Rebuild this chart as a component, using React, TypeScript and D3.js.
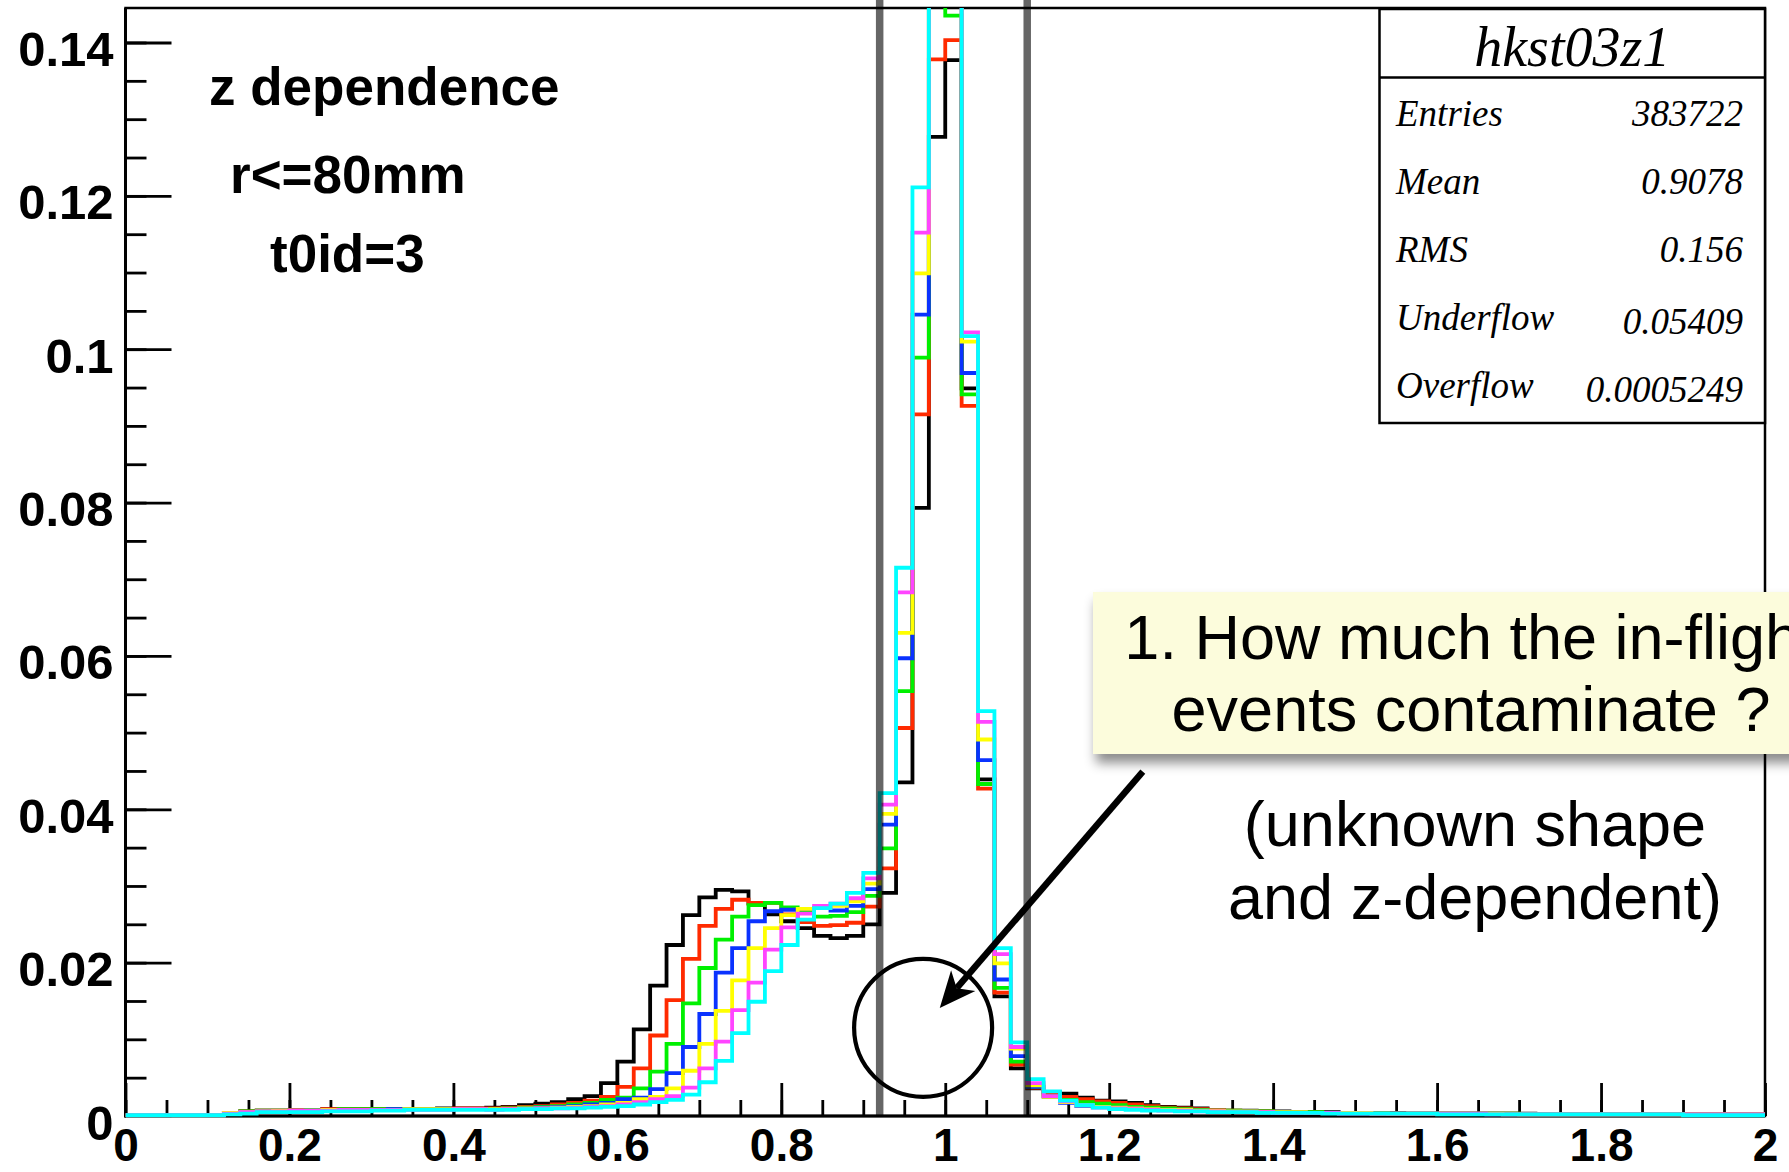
import React, { useEffect, useRef } from 'react';
import * as d3 from 'd3';

// bin width of the histograms, x from 0 to 2 (100 bins)
const binWidth = 0.02;

// normalised counts per bin, one array per z slice (drawn in this order)
const zBlack = [
  0.0001, 0.0001, 0.0001, 0.0001, 0.0001, 0.0001, 0.0004, 0.0006, 0.0007, 0.0007,
  0.0007, 0.0008, 0.0009, 0.0009, 0.0009, 0.0009, 0.0009, 0.0009, 0.0009, 0.001,
  0.001, 0.001, 0.0011, 0.0012, 0.0014, 0.0016, 0.0018, 0.0022, 0.0026, 0.0043,
  0.0071, 0.0113, 0.017, 0.0223, 0.0262, 0.0285, 0.0295, 0.0293, 0.0277, 0.0263,
  0.0254, 0.0245, 0.0235, 0.0232, 0.0235, 0.025, 0.0291, 0.0435, 0.0793, 0.1277,
  0.1377, 0.0949, 0.0439, 0.0156, 0.0062, 0.0036, 0.0031, 0.0029, 0.0024, 0.002,
  0.0019, 0.0017, 0.0014, 0.0012, 0.0011, 0.001, 0.0008, 0.0007, 0.0007, 0.0006,
  0.0006, 0.0005, 0.0005, 0.0005, 0.0004, 0.0004, 0.0004, 0.0004, 0.0003, 0.0003,
  0.0003, 0.0003, 0.0003, 0.0003, 0.0003, 0.0003, 0.0002, 0.0002, 0.0002, 0.0002,
  0.0002, 0.0002, 0.0002, 0.0002, 0.0002, 0.0002, 0.0002, 0.0002, 0.0002, 0.0002,
];
const zRed = [
  0.0001, 0.0001, 0.0001, 0.0001, 0.0001, 0.0001, 0.0004, 0.0006, 0.0007, 0.0007,
  0.0008, 0.0008, 0.0009, 0.0009, 0.0009, 0.0009, 0.0009, 0.0009, 0.0009, 0.0009,
  0.001, 0.001, 0.001, 0.0011, 0.0012, 0.0013, 0.0015, 0.0017, 0.002, 0.0025,
  0.0038, 0.0062, 0.0105, 0.0151, 0.0205, 0.0248, 0.027, 0.0282, 0.0278, 0.0278,
  0.0263, 0.0253, 0.0248, 0.0249, 0.0252, 0.0273, 0.0323, 0.0506, 0.0915, 0.1378,
  0.1403, 0.0926, 0.0427, 0.0161, 0.0067, 0.0037, 0.0028, 0.0025, 0.0022, 0.0019,
  0.0017, 0.0015, 0.0013, 0.0011, 0.001, 0.0009, 0.0008, 0.0007, 0.0006, 0.0006,
  0.0005, 0.0005, 0.0005, 0.0004, 0.0004, 0.0004, 0.0004, 0.0003, 0.0003, 0.0003,
  0.0003, 0.0003, 0.0003, 0.0003, 0.0003, 0.0002, 0.0002, 0.0002, 0.0002, 0.0002,
  0.0002, 0.0002, 0.0002, 0.0002, 0.0002, 0.0002, 0.0002, 0.0002, 0.0002, 0.0002,
];
const zGreen = [
  0.0001, 0.0001, 0.0001, 0.0001, 0.0001, 0.0001, 0.0004, 0.0006, 0.0007, 0.0007,
  0.0007, 0.0008, 0.0008, 0.0009, 0.0009, 0.0009, 0.0009, 0.0009, 0.0009, 0.0009,
  0.0009, 0.0009, 0.0009, 0.001, 0.0011, 0.0012, 0.0013, 0.0015, 0.0017, 0.0021,
  0.0024, 0.0036, 0.0058, 0.0094, 0.0147, 0.0193, 0.023, 0.026, 0.0275, 0.0278,
  0.0272, 0.0266, 0.026, 0.0261, 0.0266, 0.0287, 0.0349, 0.0554, 0.0989, 0.147,
  0.1435, 0.0941, 0.0433, 0.0167, 0.0071, 0.0038, 0.0026, 0.0021, 0.0018, 0.0016,
  0.0014, 0.0012, 0.0011, 0.001, 0.0009, 0.0008, 0.0007, 0.0007, 0.0006, 0.0006,
  0.0005, 0.0005, 0.0005, 0.0004, 0.0004, 0.0004, 0.0004, 0.0003, 0.0003, 0.0003,
  0.0003, 0.0003, 0.0003, 0.0003, 0.0003, 0.0002, 0.0002, 0.0002, 0.0002, 0.0002,
  0.0002, 0.0002, 0.0002, 0.0002, 0.0002, 0.0002, 0.0002, 0.0002, 0.0002, 0.0002,
];
const zBlue = [
  0.0001, 0.0001, 0.0001, 0.0001, 0.0001, 0.0001, 0.0004, 0.0005, 0.0006, 0.0007,
  0.0007, 0.0007, 0.0008, 0.0008, 0.0008, 0.0008, 0.0009, 0.0009, 0.0009, 0.0009,
  0.0009, 0.0009, 0.0009, 0.0009, 0.001, 0.0011, 0.0012, 0.0013, 0.0015, 0.0017,
  0.0022, 0.0024, 0.0035, 0.0056, 0.009, 0.0133, 0.0187, 0.0219, 0.0254, 0.0267,
  0.0269, 0.027, 0.0271, 0.0268, 0.0274, 0.0296, 0.038, 0.0597, 0.1045, 0.152,
  0.147, 0.0969, 0.0464, 0.0178, 0.0078, 0.0038, 0.0025, 0.0017, 0.0013, 0.0012,
  0.0011, 0.001, 0.0009, 0.0008, 0.0008, 0.0007, 0.0007, 0.0006, 0.0006, 0.0005,
  0.0005, 0.0005, 0.0004, 0.0004, 0.0004, 0.0004, 0.0003, 0.0003, 0.0003, 0.0003,
  0.0003, 0.0003, 0.0003, 0.0003, 0.0002, 0.0002, 0.0002, 0.0002, 0.0002, 0.0002,
  0.0002, 0.0002, 0.0002, 0.0002, 0.0002, 0.0002, 0.0002, 0.0002, 0.0002, 0.0002,
];
const zYellow = [
  0.0001, 0.0001, 0.0001, 0.0001, 0.0001, 0.0001, 0.0004, 0.0005, 0.0006, 0.0007,
  0.0007, 0.0007, 0.0008, 0.0008, 0.0008, 0.0008, 0.0008, 0.0009, 0.0009, 0.0009,
  0.0009, 0.0009, 0.0009, 0.0009, 0.001, 0.001, 0.0011, 0.0012, 0.0013, 0.0015,
  0.0017, 0.0022, 0.0025, 0.0036, 0.0059, 0.0094, 0.0137, 0.0177, 0.0219, 0.0245,
  0.0262, 0.027, 0.0272, 0.0274, 0.028, 0.0303, 0.0394, 0.063, 0.1099, 0.157,
  0.151, 0.101, 0.0491, 0.0199, 0.0088, 0.004, 0.0025, 0.0018, 0.0014, 0.0012,
  0.0011, 0.001, 0.0009, 0.0008, 0.0008, 0.0007, 0.0007, 0.0006, 0.0006, 0.0005,
  0.0005, 0.0005, 0.0004, 0.0004, 0.0004, 0.0004, 0.0003, 0.0003, 0.0003, 0.0003,
  0.0003, 0.0003, 0.0003, 0.0003, 0.0002, 0.0002, 0.0002, 0.0002, 0.0002, 0.0002,
  0.0002, 0.0002, 0.0002, 0.0002, 0.0002, 0.0002, 0.0002, 0.0002, 0.0002, 0.0002,
];
const zMagenta = [
  0.0001, 0.0001, 0.0001, 0.0001, 0.0001, 0.0001, 0.0003, 0.0005, 0.0006, 0.0006,
  0.0007, 0.0007, 0.0007, 0.0008, 0.0008, 0.0008, 0.0008, 0.0008, 0.0008, 0.0008,
  0.0009, 0.0009, 0.0008, 0.0009, 0.0009, 0.001, 0.001, 0.0011, 0.0012, 0.0013,
  0.0015, 0.0018, 0.0022, 0.0026, 0.0037, 0.0062, 0.0097, 0.0138, 0.0174, 0.0217,
  0.0246, 0.0264, 0.0274, 0.0277, 0.0284, 0.031, 0.0406, 0.0683, 0.1152, 0.162,
  0.155, 0.1022, 0.0514, 0.0211, 0.009, 0.0043, 0.0026, 0.0019, 0.0014, 0.0011,
  0.001, 0.0009, 0.0008, 0.0007, 0.0007, 0.0006, 0.0006, 0.0005, 0.0005, 0.0005,
  0.0004, 0.0004, 0.0004, 0.0004, 0.0003, 0.0003, 0.0003, 0.0003, 0.0003, 0.0003,
  0.0003, 0.0003, 0.0003, 0.0002, 0.0002, 0.0002, 0.0002, 0.0002, 0.0002, 0.0002,
  0.0002, 0.0002, 0.0002, 0.0002, 0.0002, 0.0002, 0.0002, 0.0002, 0.0002, 0.0002,
];
const zCyan = [
  0.0001, 0.0001, 0.0001, 0.0001, 0.0001, 0.0001, 0.0002, 0.0003, 0.0005, 0.0005,
  0.0005, 0.0005, 0.0006, 0.0006, 0.0006, 0.0007, 0.0007, 0.0008, 0.0008, 0.0008,
  0.0008, 0.0008, 0.0008, 0.0008, 0.0009, 0.0009, 0.001, 0.001, 0.0011, 0.0012,
  0.0013, 0.0015, 0.0018, 0.0021, 0.0028, 0.0044, 0.0072, 0.0108, 0.0149, 0.0189,
  0.0223, 0.0256, 0.0271, 0.0277, 0.0291, 0.0317, 0.0421, 0.0715, 0.1211, 0.168,
  0.16, 0.1017, 0.0528, 0.0219, 0.0096, 0.0048, 0.0032, 0.002, 0.0014, 0.0011,
  0.0009, 0.0008, 0.0007, 0.0007, 0.0006, 0.0006, 0.0005, 0.0005, 0.0005, 0.0004,
  0.0004, 0.0004, 0.0004, 0.0003, 0.0003, 0.0003, 0.0003, 0.0003, 0.0003, 0.0003,
  0.0002, 0.0002, 0.0002, 0.0002, 0.0002, 0.0002, 0.0002, 0.0002, 0.0002, 0.0002,
  0.0002, 0.0002, 0.0002, 0.0002, 0.0002, 0.0001, 0.0001, 0.0001, 0.0001, 0.0001,
];

const series = [
  { color: '#000000', values: zBlack },
  { color: '#ff2a00', values: zRed },
  { color: '#00f000', values: zGreen },
  { color: '#0a32ff', values: zBlue },
  { color: '#ffff00', values: zYellow },
  { color: '#ff44ff', values: zMagenta },
  { color: '#00ffff', values: zCyan },
];

const xTicks = [0, 0.2, 0.4, 0.6, 0.8, 1, 1.2, 1.4, 1.6, 1.8, 2];
const xTickLabels = ['0', '0.2', '0.4', '0.6', '0.8', '1', '1.2', '1.4', '1.6', '1.8', '2'];
const yTicks = [0, 0.02, 0.04, 0.06, 0.08, 0.1, 0.12, 0.14];
const yTickLabels = ['0', '0.02', '0.04', '0.06', '0.08', '0.1', '0.12', '0.14'];

// selection cuts shown as grey lines
const cuts = [0.92, 1.1];

const statsTitle = 'hkst03z1';
const statsNames = ['Entries', 'Mean', 'RMS', 'Underflow', 'Overflow'];
const statsValues = ['383722', '0.9078', '0.156', '0.05409', '0.0005249'];

const notes = ['z dependence', 'r<=80mm', 't0id=3'];
const calloutLines = ['1. How much the in-flight', 'events contaminate ?'];
const commentLines = ['(unknown shape', 'and z-dependent)'];

// the circled region and the arrow pointing into it, in data units
const circleAt = [0.973, 0.0115];
const arrowFrom = [1.241, 0.0449];
const arrowTo = [0.9933, 0.0141];

const sans = '"Liberation Sans", Arial, Helvetica, sans-serif';
const serif = '"Liberation Serif", "Times New Roman", Times, serif';

function drawChart(node, {
  width = 1789,
  height = 1172,
  marginTop = 8,
  marginRight = 24,
  marginBottom = 56,
  marginLeft = 125.5,
  yMax = 0.1445,
} = {}) {
  const svg = d3.select(node);
  svg.selectAll('*').remove();

  const x = d3.scaleLinear([0, 2], [marginLeft, width - marginRight]);
  const y = d3.scaleLinear([0, yMax], [height - marginBottom, marginTop]);
  const x0 = x(0), x1 = x(2), y0 = y(0), y1 = y(yMax);

  const defs = svg.append('defs');
  defs.append('clipPath').attr('id', 'frame-clip')
    .append('rect').attr('x', x0).attr('y', y1).attr('width', x1 - x0).attr('height', y0 - y1 + 5);
  defs.append('filter').attr('id', 'callout-shadow')
    .attr('x', '-5%').attr('y', '-20%').attr('width', '115%').attr('height', '160%')
    .append('feDropShadow')
    .attr('dx', 3).attr('dy', 9).attr('stdDeviation', 6)
    .attr('flood-color', '#000').attr('flood-opacity', 0.45);

  svg.append('rect').attr('width', width).attr('height', height).attr('fill', '#fff');

  // frame
  svg.append('rect')
    .attr('x', x0).attr('y', y1).attr('width', x1 - x0).attr('height', y0 - y1)
    .attr('fill', 'none').attr('stroke', '#000').attr('stroke-width', 2.5);

  const styleLabels = (g, size) => g.selectAll('.tick text')
    .attr('fill', '#000')
    .attr('font-family', sans)
    .attr('font-weight', 'bold')
    .attr('font-size', size);

  // y axis: majors every 0.02, minors every 0.005
  svg.append('g')
    .attr('transform', `translate(${x0},0)`)
    .call(d3.axisLeft(y).tickValues(d3.range(0, yMax, 0.005)).tickSize(-21).tickFormat(() => ''))
    .call((g) => g.select('.domain').remove())
    .call((g) => g.selectAll('.tick line').attr('stroke-width', 2.8));
  svg.append('g')
    .attr('transform', `translate(${x0},0)`)
    .call(d3.axisLeft(y).tickValues(yTicks).tickSize(-46).tickPadding(12)
      .tickFormat((d, i) => yTickLabels[i]))
    .call((g) => g.select('.domain').remove())
    .call((g) => g.selectAll('.tick line').attr('stroke-width', 2.8))
    .call((g) => styleLabels(g, 49))
    .call((g) => g.selectAll('.tick text').attr('dy', 23));

  // x axis: majors every 0.2, minors every 0.05
  svg.append('g')
    .attr('transform', `translate(0,${y0})`)
    .call(d3.axisBottom(x).tickValues(d3.range(0, 2.001, 0.05)).tickSize(-16).tickFormat(() => ''))
    .call((g) => g.select('.domain').remove())
    .call((g) => g.selectAll('.tick line').attr('stroke-width', 2.8));
  svg.append('g')
    .attr('transform', `translate(0,${y0})`)
    .call(d3.axisBottom(x).tickValues(xTicks).tickSize(-33)
      .tickFormat((d, i) => xTickLabels[i]))
    .call((g) => g.select('.domain').remove())
    .call((g) => g.selectAll('.tick line').attr('stroke-width', 2.8))
    .call((g) => styleLabels(g, 46))
    .call((g) => g.selectAll('.tick text').attr('y', 45).attr('dy', null));

  // heavier left and bottom axis lines
  svg.append('path')
    .attr('d', `M${x0},${y1}V${y0}H${x1}`)
    .attr('fill', 'none').attr('stroke', '#000').attr('stroke-width', 3);

  // histograms
  const line = d3.line()
    .curve(d3.curveStepAfter)
    .x((d) => x(d[0]))
    .y((d) => y(d[1]));

  const plot = svg.append('g').attr('clip-path', 'url(#frame-clip)');
  series.forEach((s) => {
    const pts = s.values.map((v, i) => [i * binWidth, v]);
    pts.push([s.values.length * binWidth, s.values[s.values.length - 1]]);
    plot.append('path')
      .attr('d', line(pts))
      .attr('fill', 'none')
      .attr('stroke', s.color)
      .attr('stroke-width', 3.8)
      .attr('stroke-linejoin', 'miter');
  });

  // cut lines
  svg.append('g')
    .selectAll('line')
    .data(cuts)
    .join('line')
    .attr('x1', (d) => x(d)).attr('x2', (d) => x(d))
    .attr('y1', 0).attr('y2', y0)
    .attr('stroke', '#000').attr('stroke-opacity', 0.6).attr('stroke-width', 7.5);

  // stats box
  const sb = { left: 1379.5, top: 9, right: x1, bottom: 423 };
  const stats = svg.append('g');
  stats.append('rect')
    .attr('x', sb.left).attr('y', sb.top)
    .attr('width', sb.right - sb.left).attr('height', sb.bottom - sb.top)
    .attr('fill', '#fff').attr('stroke', '#000').attr('stroke-width', 2.5);
  stats.append('line')
    .attr('x1', sb.left).attr('x2', sb.right).attr('y1', 77.5).attr('y2', 77.5)
    .attr('stroke', '#000').attr('stroke-width', 2.5);
  stats.append('text')
    .attr('x', (sb.left + sb.right) / 2).attr('y', 66)
    .attr('text-anchor', 'middle')
    .attr('font-family', serif).attr('font-style', 'italic').attr('font-size', 56)
    .text(statsTitle);
  statsNames.forEach((name, i) => {
    const by = 126 + i * 68;
    stats.append('text')
      .attr('x', 1396).attr('y', by)
      .attr('font-family', serif).attr('font-style', 'italic').attr('font-size', 37)
      .text(name);
    stats.append('text')
      .attr('x', 1743).attr('y', by + (i >= 3 ? 4 : 0))
      .attr('text-anchor', 'end')
      .attr('font-family', serif).attr('font-style', 'italic').attr('font-size', 37)
      .text(statsValues[i]);
  });

  // notes in the top left
  const noteX = [209, 230, 270];
  const noteY = [105, 193, 272];
  svg.append('g')
    .selectAll('text')
    .data(notes)
    .join('text')
    .attr('x', (d, i) => noteX[i]).attr('y', (d, i) => noteY[i])
    .attr('font-family', sans).attr('font-weight', 'bold').attr('font-size', 53)
    .text((d) => d);

  // circled region
  svg.append('circle')
    .attr('cx', x(circleAt[0])).attr('cy', y(circleAt[1])).attr('r', 69)
    .attr('fill', 'none').attr('stroke', '#000').attr('stroke-width', 4.2);

  // arrow
  const ax0 = x(arrowFrom[0]), ay0 = y(arrowFrom[1]);
  const ax1 = x(arrowTo[0]), ay1 = y(arrowTo[1]);
  const len = Math.hypot(ax1 - ax0, ay1 - ay0);
  const ux = (ax1 - ax0) / len, uy = (ay1 - ay0) / len;
  const headLen = 36, headHalf = 16, notch = 10;
  const bx = ax1 - ux * headLen, by = ay1 - uy * headLen;
  svg.append('line')
    .attr('x1', ax0).attr('y1', ay0)
    .attr('x2', ax1 - ux * (headLen - notch)).attr('y2', ay1 - uy * (headLen - notch))
    .attr('stroke', '#000').attr('stroke-width', 6.5);
  svg.append('path')
    .attr('d', `M${ax1},${ay1}L${bx - uy * headHalf},${by + ux * headHalf}` +
      `L${bx + ux * notch},${by + uy * notch}L${bx + uy * headHalf},${by - ux * headHalf}Z`)
    .attr('fill', '#000');

  // callout box
  svg.append('rect')
    .attr('x', 1093).attr('y', 592).attr('width', 780).attr('height', 162)
    .attr('fill', '#fcfcdc')
    .attr('filter', 'url(#callout-shadow)');
  svg.append('g')
    .selectAll('text')
    .data(calloutLines)
    .join('text')
    .attr('x', 1471).attr('y', (d, i) => 659 + i * 72)
    .attr('text-anchor', 'middle')
    .attr('font-family', sans).attr('font-size', 63)
    .text((d) => d);
  svg.append('g')
    .selectAll('text')
    .data(commentLines)
    .join('text')
    .attr('x', 1475).attr('y', (d, i) => 846 + i * 73)
    .attr('text-anchor', 'middle')
    .attr('font-family', sans).attr('font-size', 63)
    .text((d) => d);
}

export default function App() {
  const ref = useRef(null);

  useEffect(() => {
    document.body.style.margin = '0';
    drawChart(ref.current);
  }, []);

  return (
    <svg
      ref={ref}
      width={1789}
      height={1172}
      viewBox="0 0 1789 1172"
      style={{ display: 'block', position: 'absolute', left: 0, top: 0 }}
    />
  );
}
